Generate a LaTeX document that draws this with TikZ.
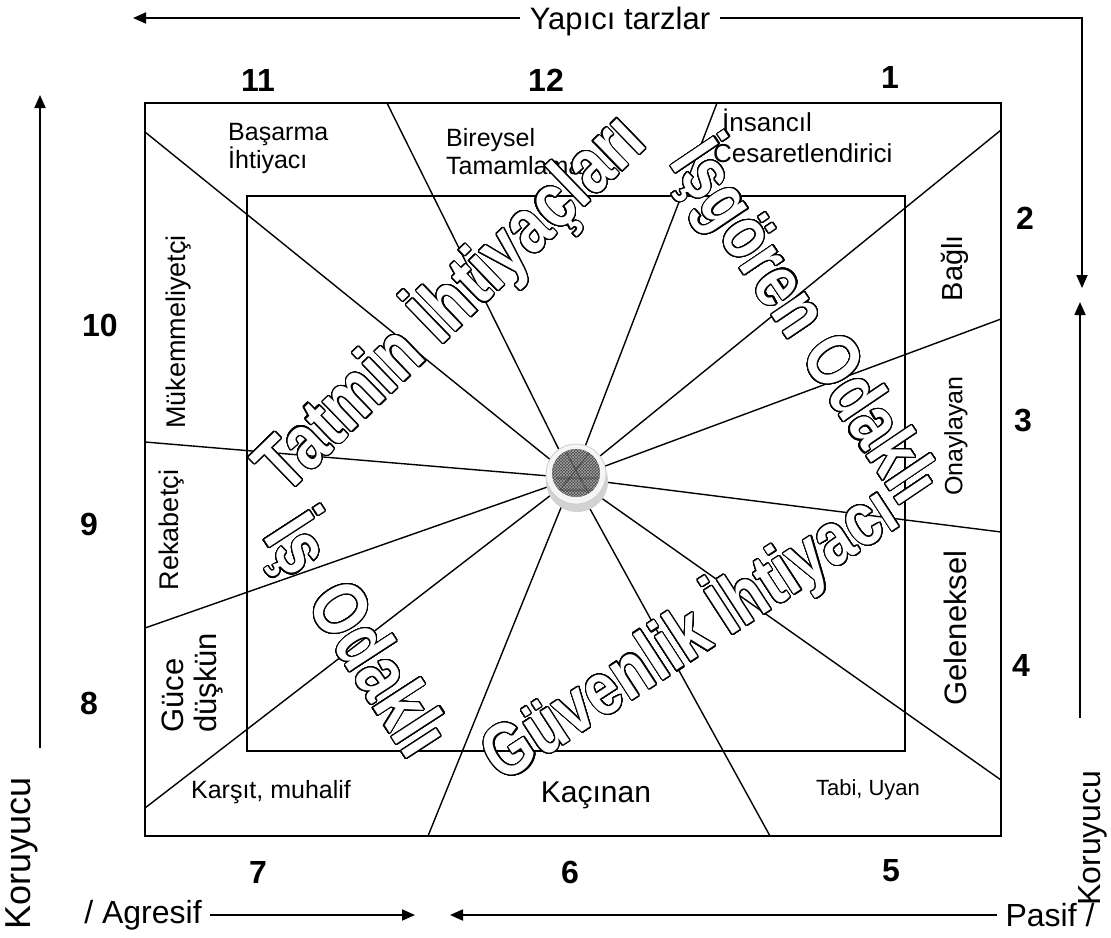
\documentclass[tikz,border=0pt]{standalone}
\usepackage{fontspec}
\setmainfont{Liberation Sans}
\usepackage[copies]{contour}
\usetikzlibrary{arrows.meta,patterns}
\contourlength{1pt}
\contournumber{48}
\newcommand\setfs[1]{\fontsize{#1}{#1}\selectfont}
\newcommand\hollow[1]{\contour{black}{\textcolor{white}{#1}}}

\begin{document}
\begin{tikzpicture}[x=1pt,y=-1pt,
  lbl/.style={inner sep=0pt, font=\setfs{25}},
  num/.style={inner sep=0pt, font=\setfs{32}\bfseries},
  big/.style={inner sep=0pt, font=\setfs{62}\bfseries},
  ray/.style={line width=1.4pt},
  frame/.style={draw, line width=1.8pt},
  arr/.style={line width=1.8pt, -{Triangle[length=13pt,width=11pt]}},
]
\useasboundingbox (0,0) rectangle (1111,937);

% frames
\draw[frame] (145,103) rectangle (1001,836);
\draw[frame] (247,196) rectangle (905,751);

% hub and rays
\coordinate (c) at (573,478);
\coordinate (r1)  at (145,132);
\coordinate (r2)  at (387,103);
\coordinate (r3)  at (717,103);
\coordinate (r4)  at (1001,130);
\coordinate (r5)  at (1001,319);
\coordinate (r6)  at (1001,532);
\coordinate (r7)  at (1001,780);
\coordinate (r8)  at (770,836);
\coordinate (r9)  at (428,836);
\coordinate (r10) at (145,808);
\coordinate (r11) at (145,628);
\coordinate (r12) at (145,442);
\foreach \r in {r1,r2,r3,r4,r5,r6,r7,r8,r9,r10,r11,r12}
  \draw[ray] (\r) -- (c);

% hub disc
\fill[gray!35] (577,481) circle (31);
\filldraw[fill=gray!8, draw=gray!40, line width=0.8pt] (576,474) circle (30);
\fill[gray!55!black] (576,473) circle (24);
\fill[pattern=crosshatch, pattern color=gray!70] (576,473) circle (24);
\begin{scope}
  \clip (576,473) circle (24);
  \draw[black!70, line width=1pt] (560,490) -- (590,452) (556,478) -- (598,478) (566,452) -- (590,496) (560,490) -- (598,490);
\end{scope}

% outer axis arrows
\node[inner xsep=10pt, inner ysep=2pt, font=\setfs{31}] (yap) at (620,21) {Yapıcı tarzlar};
\coordinate (tl) at (133,18);
\coordinate (tr) at (1082,18);
\coordinate (tip1) at (1082,288);
\draw[arr] (yap.west |- tl) -- (tl);
\draw[arr] (yap.east |- tr) -- (tr) -- (tip1);

\coordinate (lb) at (40,748);
\coordinate (lt) at (40,95);
\draw[arr] (lb) -- (lt);
\coordinate (rb) at (1080,718);
\coordinate (rt) at (1080,302);
\draw[arr] (rb) -- (rt);

\node[inner sep=0pt, font=\setfs{32}] (agr) at (143,915) {/ Agresif};
\node[inner sep=0pt, font=\setfs{32}] (pas) at (1050,915) {Pasif /};
\coordinate (bt1) at (415,915);
\coordinate (bt2) at (450,915);
\draw[arr] ([xshift=8pt]agr.east |- bt1) -- (bt1);
\draw[arr] ([xshift=-8pt]pas.west |- bt2) -- (bt2);

\node[inner sep=0pt, font=\setfs{36}, rotate=90] (kor1) at (22,853) {Koruyucu};
\node[inner sep=0pt, font=\setfs{32}, rotate=90] (kor2) at (1093,838) {Koruyucu};

% sector numbers
\node[num] (n11) at (258,80) {11};
\node[num] (n12) at (546,80) {12};
\node[num] (n1)  at (890,77) {1};
\node[num] (n2)  at (1025,218) {2};
\node[num] (n3)  at (1023,421) {3};
\node[num] (n4)  at (1021,665) {4};
\node[num] (n10) at (100,325) {10};
\node[num] (n9)  at (89,524) {9};
\node[num] (n8)  at (89,703) {8};
\node[num] (n7)  at (258,872) {7};
\node[num] (n6)  at (570,872) {6};
\node[num] (n5)  at (891,871) {5};

% sector labels
\node[lbl, anchor=base west] (bas1) at (228,140) {Başarma};
\node[lbl, anchor=base west] (bas2) at (228,168) {İhtiyacı};
\node[lbl, anchor=base west] (bir1) at (446,146) {Bireysel};
\node[lbl, anchor=base west] (bir2) at (446,174) {Tamamlama};
\node[lbl, anchor=base west, font=\setfs{26}] (ins1) at (722,131) {İnsancıl};
\node[lbl, anchor=base west, font=\setfs{26}] (ins2) at (713,162) {Cesaretlendirici};
\node[lbl, rotate=90, font=\setfs{29}] (bag) at (955,268) {Bağlı};
\node[lbl, rotate=90, font=\setfs{25}] (ona) at (956,436) {Onaylayan};
\node[lbl, rotate=90, font=\setfs{31}] (gel) at (955,628) {Geleneksel};
\node[lbl, font=\setfs{22}] (tab) at (868,790) {Tabi, Uyan};
\node[lbl, font=\setfs{30}] (kac) at (596,795) {Kaçınan};
\node[lbl, font=\setfs{25}] (kar) at (271,792) {Karşıt, muhalif};
\node[lbl, rotate=90, anchor=base west, font=\setfs{31}] (guc1) at (183,733) {Güce};
\node[lbl, rotate=90, anchor=base west, font=\setfs{31}] (guc2) at (216,733) {düşkün};
\node[lbl, rotate=90, font=\setfs{27}] (rek) at (172,530) {Rekabetçi};
\node[lbl, rotate=90, font=\setfs{27}] (muk) at (179,332) {Mükemmeliyetçi};

% hollow diagonal titles (tall letters)
\node[big, rotate=44, yscale=1.25] (tat) at (450,303) {\hollow{Tatmin İhtiyaçları}};
\node[big, rotate=-56, yscale=1.25, font=\setfs{60}\bfseries] (isg) at (805,322) {\hollow{İşgören Odaklı}};
\node[big, rotate=33, yscale=1.25, font=\setfs{60}\bfseries] (guv) at (690,634) {\hollow{Güvenlik İhtiyacı}};
\node[big, rotate=-57, yscale=1.25] (iso) at (356,636) {\hollow{İş\hspace{0.45em}Odaklı}};
\end{tikzpicture}
\end{document}
